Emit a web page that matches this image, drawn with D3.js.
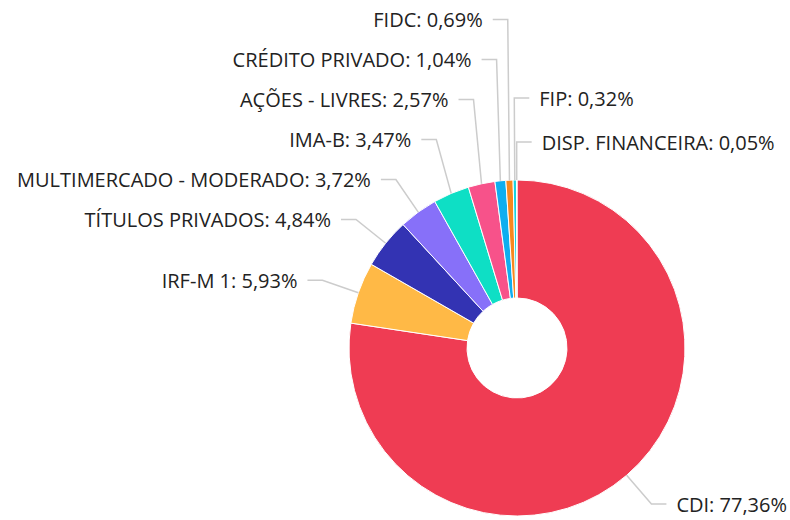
<!DOCTYPE html>
<html><head><meta charset="utf-8">
<script src="https://cdn.jsdelivr.net/npm/d3@7"></script>
<style>body{margin:0;background:#fff}svg{display:block}</style>
</head><body>
<svg id="c" width="790" height="520"></svg>
<script>
const categories = ["CDI","IRF-M 1","TÍTULOS PRIVADOS","MULTIMERCADO - MODERADO","IMA-B","AÇÕES - LIVRES","CRÉDITO PRIVADO","FIDC","FIP","DISP. FINANCEIRA"];
const values = [77.36,5.93,4.84,3.72,3.47,2.57,1.04,0.69,0.32,0.05];
const colors = ["#EF3C53","#FFB946","#3333B3","#8770F9","#0EDFC5","#F7528A","#0EAEEF","#F7881F","#18D2E0","#7FD13B"];

const W=790,H=520,cx=517,cy=348,R=168,r0=50,Rl=206,gap=40;
const svg=d3.select("#c");
const g=svg.append("g").attr("transform",`translate(${cx},${cy})`);
const pie=d3.pie().sort(null).value(d=>d.v).startAngle(0).endAngle(2*Math.PI);
const data=categories.map((c,i)=>({c,v:values[i],col:colors[i]}));
const arcs=pie(data);
const arc=d3.arc().innerRadius(r0).outerRadius(R);
const fmt=v=>v.toFixed(2).replace(".",",")+"%";

const labs=arcs.map(a=>{
  const m=(a.startAngle+a.endAngle)/2;
  const sa = m>2*Math.PI-0.02 ? m-2*Math.PI : m;
  const right = Math.sin(sa)>=0 || sa<0;
  return {a,m,sa,right,
    ax:R*Math.sin(m), ay:-R*Math.cos(m),
    ex:Rl*Math.sin(m), ey:-Rl*Math.cos(m)};
});
function layout(list,sp){
  for(let i=list.length-2;i>=0;i--){
    if(list[i].ey>list[i+1].ey-sp) list[i].ey=list[i+1].ey-sp;
  }
}
const left=labs.filter(l=>!l.right).sort((p,q)=>q.m-p.m);
const right=labs.filter(l=>l.right).sort((p,q)=>p.sa-q.sa);
layout(left,gap); layout(right,gap+4);

g.selectAll("path.s").data(arcs).join("path").attr("class","s")
  .attr("d",arc).attr("fill",d=>d.data.col).attr("stroke","#fff").attr("stroke-width",1);

const lg=g.append("g");
labs.forEach(l=>{
  const dir=l.right?1:-1;
  lg.append("polyline")
    .attr("points",`${l.ax},${l.ay} ${l.ex},${l.ey} ${l.ex+dir*15},${l.ey}`)
    .attr("fill","none").attr("stroke","#cccccc").attr("stroke-width",1.5);
  lg.append("text")
    .attr("x",l.ex+dir*25).attr("y",l.ey)
    .attr("dy","0.38em")
    .attr("text-anchor",l.right?"start":"end")
    .attr("font-family","'Open Sans', sans-serif").attr("font-size",20)
    .attr("fill","#222")
    .text(`${l.a.data.c}: ${fmt(l.a.data.v)}`);
});
</script>
</body></html>
